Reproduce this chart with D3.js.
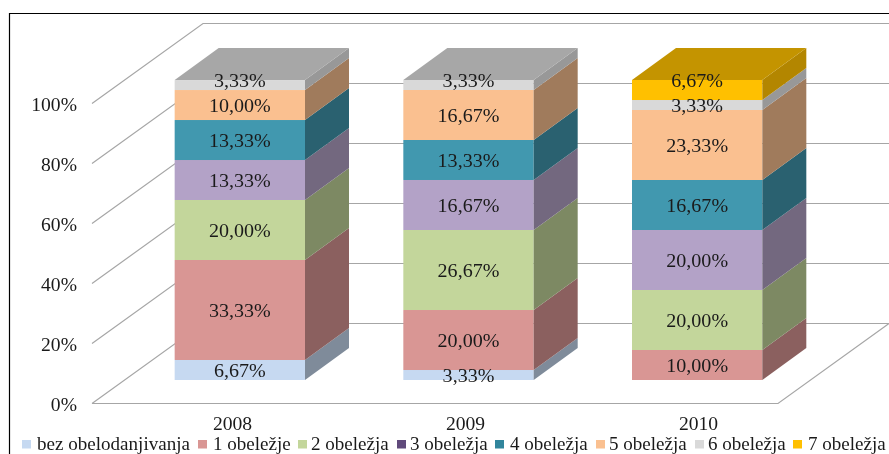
<!DOCTYPE html>
<html>
<head>
<meta charset="utf-8">
<script src="https://cdn.jsdelivr.net/npm/d3@7"></script>
<style>
    html, body { margin: 0; padding: 0; background: #fff; overflow: hidden; }
    svg { display: block; filter: blur(0.4px); }
    text { font-family: "Liberation Serif", serif; fill: #1a1a1a; }
</style>
</head>
<body>
<div id="wrapper"></div>
<script>
const years = ["2008", "2009", "2010"]
const seriesNames = ["bez obelodanjivanja", "1 obeležje", "2 obeležja", "3 obeležja", "4 obeležja", "5 obeležja", "6 obeležja", "7 obeležja"]
const seriesColors = ["#c6d9f1", "#d99694", "#c3d69b", "#b3a2c7", "#4198af", "#fac090", "#d9d9d9", "#ffc000"]
const legendColors = ["#c6d9f1", "#d99694", "#c3d69b", "#604a7b", "#31859c", "#fac090", "#d9d9d9", "#ffc000"]
const values2008 = [6.67, 33.33, 20, 13.33, 13.33, 10, 3.33, 0]
const values2009 = [3.33, 20, 26.67, 16.67, 13.33, 16.67, 3.33, 0]
const values2010 = [0, 10, 20, 20, 16.67, 23.33, 3.33, 6.67]
const axisTicks = [0, 20, 40, 60, 80, 100]
const legendX = [22, 198, 298, 397, 495, 596, 695, 793]
const legendTextX = [37, 213, 311, 410, 510, 609, 708, 808]

const dimensions = {
    width: 889,
    height: 454,
    wall: {dx: 111, dy: 80},
    barFront: {dx: 33.5, dy: 23.5},
    barDepth: {dx: 44, dy: 32},
}

drawChart()

function drawChart() {
    const svg = d3.select("#wrapper")
        .append("svg")
        .attr("width", dimensions.width)
        .attr("height", dimensions.height)
    const yScale = d3.scaleLinear().domain([0, 100]).range([403.5, 103.5])
    const xScale = d3.scaleBand().domain(years).range([92, 778]).paddingInner(0.43).paddingOuter(0.215)
    const stacked = buildStacks()
    drawFrame(svg)
    drawWalls(svg, xScale, yScale)
    drawBars(svg, xScale, yScale, stacked)
    drawAxes(svg, yScale)
    drawLabels(svg, xScale, yScale, stacked)
    drawLegend(svg)
}

function buildStacks() {
    const rows = [values2008, values2009, values2010].map((vals, i) => {
        const row = {year: years[i]}
        seriesNames.forEach((name, j) => row[name] = vals[j])
        return row
    })
    return d3.stack().keys(seriesNames)(rows)
}

function drawFrame(svg) {
    svg.append("path")
        .attr("d", d3.line()([[9.5, dimensions.height], [9.5, 13.5], [dimensions.width, 13.5]]))
        .attr("fill", "none")
        .attr("stroke", "#000")
        .attr("stroke-width", 1.2)
}

function drawWalls(svg, xScale, yScale) {
    const {dx, dy} = dimensions.wall
    const [x0, x1] = xScale.range()
    const grid = svg.append("g")
        .attr("fill", "none")
        .attr("stroke", "#a6a6a6")
        .attr("stroke-width", 1.2)
    axisTicks.forEach(t => {
        grid.append("path")
            .attr("d", d3.line()([[x0, yScale(t)], [x0 + dx, yScale(t) - dy], [x1 + dx, yScale(t) - dy]]))
    })
    grid.append("path")
        .attr("d", d3.line()([[x0, yScale(0)], [x1, yScale(0)], [x1 + dx, yScale(0) - dy]]))
}

function shade(color, k) {
    const c = d3.rgb(color)
    return d3.rgb(c.r * k, c.g * k, c.b * k).formatHex()
}

function drawBars(svg, xScale, yScale, stacked) {
    const {dx, dy} = dimensions.barDepth
    const front = dimensions.barFront
    const w = xScale.bandwidth()
    years.forEach((year, i) => {
        const left = xScale(year) + front.dx
        const right = left + w
        const g = svg.append("g")
        stacked.forEach((layer, j) => {
            const [v0, v1] = layer[i]
            if (v1 === v0) return
            const yBottom = yScale(v0) - front.dy
            const yTop = yScale(v1) - front.dy
            const color = seriesColors[j]
            g.append("rect")
                .attr("x", left)
                .attr("y", yTop)
                .attr("width", w)
                .attr("height", yBottom - yTop)
                .attr("fill", color)
            g.append("path")
                .attr("d", d3.line()([[right, yBottom], [right + dx, yBottom - dy], [right + dx, yTop - dy], [right, yTop]]) + "Z")
                .attr("fill", shade(color, j >= 6 ? 0.7 : 0.64))
            if (isTopLayer(stacked, i, j)) {
                g.append("path")
                    .attr("d", d3.line()([[left, yTop], [left + dx, yTop - dy], [right + dx, yTop - dy], [right, yTop]]) + "Z")
                    .attr("fill", shade(color, 0.77))
            }
        })
    })
}

function isTopLayer(stacked, i, j) {
    return stacked.slice(j + 1).every(layer => layer[i][1] === layer[i][0])
}

function drawAxes(svg, yScale) {
    const yAxis = d3.axisLeft(yScale)
        .tickValues(axisTicks)
        .tickFormat(d => d + "%")
        .tickSize(0)
        .tickPadding(0)
    const yGroup = svg.append("g")
        .attr("transform", "translate(77, 1.5)")
        .call(yAxis)
    const xLabels = d3.scalePoint().domain(years).range([232, 698])
    const xAxis = d3.axisBottom(xLabels).tickSize(0).tickPadding(0)
    const xGroup = svg.append("g")
        .attr("transform", "translate(0, 417)")
        .call(xAxis)
    ;[yGroup, xGroup].forEach(g => {
        g.select(".domain").remove()
        g.selectAll("text")
            .attr("fill", "#1a1a1a")
            .attr("transform", "scale(1.09, 1)")
            .style("font-family", "Liberation Serif")
            .style("font-size", "18px")
    })
}

function drawLabels(svg, xScale, yScale, stacked) {
    const front = dimensions.barFront
    const w = xScale.bandwidth()
    const fmt = v => v.toFixed(2).replace(".", ",") + "%"
    years.forEach((year, i) => {
        stacked.forEach((layer, j) => {
            const [v0, v1] = layer[i]
            if (v1 === v0) return
            // Excel pushes the top label up onto the edge of the stack
            const pos = isTopLayer(stacked, i, j) ? v1 : (v0 + v1) / 2
            const x = xScale(year) + front.dx + w / 2
            svg.append("text")
                .attr("transform", `translate(${x}, ${yScale(pos) - front.dy}) scale(1.115, 1)`)
                .attr("dy", "0.38em")
                .attr("text-anchor", "middle")
                .style("font-size", "18px")
                .text(fmt(v1 - v0))
        })
    })
}

function drawLegend(svg) {
    const items = svg.append("g")
    seriesNames.forEach((name, i) => {
        items.append("rect")
            .attr("x", legendX[i])
            .attr("y", 440)
            .attr("width", 9)
            .attr("height", 8.5)
            .attr("fill", legendColors[i])
        items.append("text")
            .attr("transform", `translate(${legendTextX[i]}, 450) scale(1.06, 1)`)
            .style("font-size", "18px")
            .text(name)
    })
}
</script>
</body>
</html>
